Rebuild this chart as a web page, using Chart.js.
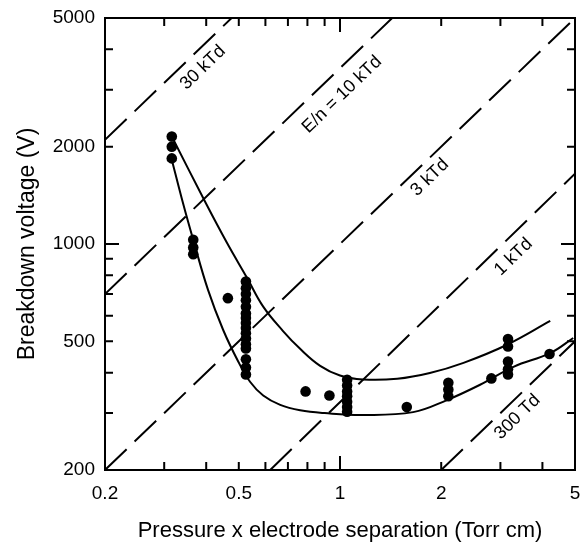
<!DOCTYPE html>
<html>
<head>
<meta charset="utf-8">
<script src="https://cdn.jsdelivr.net/npm/chart.js@4/dist/chart.umd.min.js"></script>
<style>
  html, body { margin: 0; padding: 0; background: #fff; }
  #wrap { width: 587px; height: 546px; }
</style>
</head>
<body>
<div id="wrap"><canvas id="myChart" width="587" height="546"></canvas></div>
<script>
// measured breakdown points (pd in Torr cm, V in volts)
const measPd = [0.316, 0.316, 0.316, 0.366, 0.366, 0.366, 0.464,
  0.525, 0.525, 0.525, 0.525, 0.525, 0.525, 0.525, 0.525, 0.525, 0.525, 0.525, 0.525, 0.525, 0.525, 0.525, 0.525,
  0.79, 0.93, 1.05, 1.05, 1.05, 1.05, 1.05, 1.05, 1.05, 1.58, 2.1, 2.1, 2.1, 2.82,
  3.16, 3.16, 3.16, 3.16, 3.16, 4.2];
const measV = [2150, 2000, 1840, 1030, 975, 930, 680,
  765, 730, 700, 670, 640, 610, 590, 570, 550, 530, 510, 490, 475, 440, 415, 395,
  350, 340, 380, 365, 350, 338, 325, 313, 303, 313, 372, 355, 338, 384,
  508, 482, 433, 410, 395, 457];

// fitted curves
const upperPd = [0.316, 0.397, 0.461, 0.529, 0.591, 0.677, 0.761, 0.873, 1.0, 1.17, 1.48, 1.85, 2.33, 3.14, 4.22];
const upperV = [2150, 1351, 1009, 786, 640, 538, 474, 420, 392, 381, 383, 399, 429, 488, 578];
const lowerPd = [0.316, 0.341, 0.366, 0.405, 0.449, 0.498, 0.540, 0.591, 0.664, 0.761, 0.9, 1.17, 1.65, 2.08, 2.61, 3.28, 4.22, 4.94];
const lowerV = [1823, 1341, 1030, 721, 543, 433, 375, 340, 318, 306, 300, 296, 302, 329, 367, 417, 460, 512];

// constant E/n reference lines
const refLabels = ["30 kTd", "E/n = 10 kTd", "3 kTd", "1 kTd", "300 Td"];
const refStartPd = [0.2, 0.2, 0.2, 0.62, 2.0];
const refStartV = [2100, 700, 200, 200, 200];
const refEndPd = [0.476, 1.43, 5, 5, 5];
const refEndV = [5000, 5000, 5000, 1650, 500];
const refLabelPd = [0.391, 1.014, 1.85, 3.28, 3.37];
const refLabelV = [3510, 2898, 1606, 912, 292];

// axes
const xTicks = [0.2, 0.3, 0.4, 0.5, 0.6, 0.7, 0.8, 0.9, 1, 2, 3, 4, 5];
const xLabelled = [0.2, 0.5, 1, 2, 5];
const yTicks = [200, 300, 400, 500, 600, 700, 800, 900, 1000, 2000, 3000, 4000, 5000];
const yLabelled = [200, 500, 1000, 2000, 5000];

const FONT = "'Liberation Sans', Arial, Helvetica, sans-serif";

const pts = (xs, ys) => xs.map((x, i) => ({ x: x, y: ys[i] }));

let datasets = [];
refLabels.forEach((lab, i) => {
  datasets.push({
    label: lab,
    data: [{ x: refStartPd[i], y: refStartV[i] }, { x: refEndPd[i], y: refEndV[i] }],
    showLine: true,
    borderColor: "#000",
    borderWidth: 2,
    borderDash: [30, 11],
    pointRadius: 0,
  });
});
datasets.push({
  label: "upper fit",
  data: pts(upperPd, upperV),
  showLine: true,
  borderColor: "#000",
  borderWidth: 2,
  pointRadius: 0,
  tension: 0.4,
});
datasets.push({
  label: "lower fit",
  data: pts(lowerPd, lowerV),
  showLine: true,
  borderColor: "#000",
  borderWidth: 2,
  pointRadius: 0,
  tension: 0.4,
});
datasets.push({
  label: "measured",
  data: pts(measPd, measV),
  showLine: false,
  pointRadius: 5.3,
  pointBackgroundColor: "#000",
  pointBorderColor: "#000",
  pointBorderWidth: 0,
});

// frame with inward ticks on all four sides, plus line labels
const framePlugin = {
  id: "frame",
  afterDatasetsDraw(chart) {
    const ctx = chart.ctx;
    const a = chart.chartArea;
    const xs = chart.scales.x, ys = chart.scales.y;
    ctx.save();
    ctx.strokeStyle = "#000";
    ctx.lineWidth = 2;
    ctx.strokeRect(a.left, a.top, a.right - a.left, a.bottom - a.top);
    ctx.beginPath();
    xTicks.forEach(v => {
      const px = xs.getPixelForValue(v);
      const len = v === 1 ? 14 : 8;
      ctx.moveTo(px, a.bottom); ctx.lineTo(px, a.bottom - len);
      ctx.moveTo(px, a.top); ctx.lineTo(px, a.top + len);
    });
    yTicks.forEach(v => {
      const py = ys.getPixelForValue(v);
      const len = v === 1000 ? 14 : 8;
      ctx.moveTo(a.left, py); ctx.lineTo(a.left + len, py);
      ctx.moveTo(a.right, py); ctx.lineTo(a.right - len, py);
    });
    ctx.stroke();

    ctx.fillStyle = "#000";
    ctx.font = "18px " + FONT;
    ctx.textAlign = "center";
    ctx.textBaseline = "middle";
    refLabels.forEach((lab, i) => {
      const px = xs.getPixelForValue(refLabelPd[i]);
      const py = ys.getPixelForValue(refLabelV[i]);
      ctx.save();
      ctx.translate(px, py);
      ctx.rotate(-44 * Math.PI / 180);
      ctx.fillText(lab, 0, 0);
      ctx.restore();
    });
    ctx.restore();
  }
};

const ctx = document.getElementById("myChart").getContext("2d");
new Chart(ctx, {
  type: "scatter",
  data: { datasets: datasets },
  plugins: [framePlugin],
  options: {
    responsive: false,
    animation: false,
    layout: { padding: { left: 0, right: 12, top: 18, bottom: 0 } },
    plugins: {
      legend: { display: false },
      tooltip: { enabled: false },
    },
    scales: {
      x: {
        type: "logarithmic",
        min: 0.2,
        max: 5,
        afterBuildTicks: s => { s.ticks = xTicks.map(v => ({ value: v })); },
        afterFit: s => { s.height = 76; s.paddingLeft = 0; s.paddingRight = 0; },
        grid: { display: false, drawTicks: false },
        border: { display: false },
        ticks: {
          color: "#000",
          padding: 12,
          maxRotation: 0,
          autoSkip: false,
          font: { family: FONT, size: 19 },
          callback: v => xLabelled.includes(v) ? String(v) : "",
        },
        title: {
          display: true,
          text: "Pressure x electrode separation (Torr cm)",
          color: "#000",
          font: { family: FONT, size: 22 },
          padding: { top: 0, bottom: 2 },
        },
      },
      y: {
        type: "logarithmic",
        min: 200,
        max: 5000,
        afterBuildTicks: s => { s.ticks = yTicks.map(v => ({ value: v })); },
        afterFit: s => { s.width = 105; s.paddingTop = 0; s.paddingBottom = 0; },
        grid: { display: false, drawTicks: false },
        border: { display: false },
        ticks: {
          color: "#000",
          padding: 10,
          autoSkip: false,
          font: { family: FONT, size: 19 },
          callback: v => yLabelled.includes(v) ? String(v) : "",
        },
        title: {
          display: true,
          text: "Breakdown voltage (V)",
          color: "#000",
          font: { family: FONT, size: 23 },
          padding: { top: 14, bottom: 0 },
        },
      },
    },
  },
});
</script>
</body>
</html>
